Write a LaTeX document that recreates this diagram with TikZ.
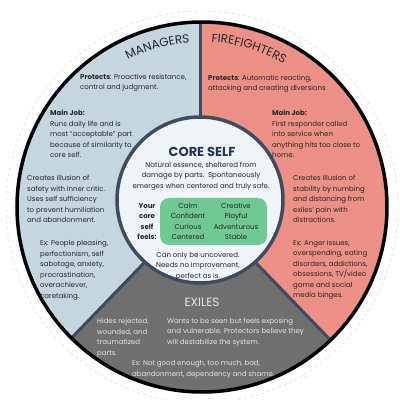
\documentclass[tikz,border=0pt]{standalone}
\usepackage{fontspec}
\setmainfont{Poppins}
\usetikzlibrary{positioning,decorations.text}
\definecolor{mgrblue}{RGB}{198,214,223}
\definecolor{firered}{RGB}{237,144,133}
\definecolor{exilegray}{RGB}{112,112,112}
\definecolor{corefill}{RGB}{240,245,250}
\definecolor{slate}{RGB}{62,76,98}
\definecolor{feelgreen}{RGB}{112,200,146}
\definecolor{ink}{RGB}{38,38,44}
\definecolor{corenavy}{RGB}{36,52,88}
\definecolor{pale}{RGB}{228,228,228}

\begin{document}
\begin{tikzpicture}[x=1pt,y=1pt,
    body/.style={inner sep=0pt,align=left,anchor=west,text=ink,font=\fontsize{7}{10.5}\selectfont},
    centred/.style={body,align=center,anchor=center},
    pale text/.style={body,text=pale},
    divider/.style={slate,line width=3pt},
    feelbox/.style={fill=feelgreen,rounded corners=9pt,minimum width=107pt,minimum height=47pt,inner sep=0pt},
    arcname/.style={decorate,decoration={text along path,text align=center,text color=ink,
        text={|\fontsize{12}{12}\selectfont|#1}}}]
  \useasboundingbox (0,0) rectangle (400,400);
  \fill[white] (0,0) rectangle (400,400);
  \coordinate (O) at (202,193);
  \coordinate (C) at (200,200);
  \coordinate (D) at (200,195);
  \path (D) ++(-46:300) coordinate (ER);
  \path (D) ++(-134:300) coordinate (EL);

  % the three parts
  \draw[gray!35,dashed,line width=0.4pt] (O) circle[radius=196];
  \begin{scope}
    \clip (O) circle[radius=185];
    \fill[mgrblue] (O) circle[radius=185];
    \fill[firered] (D) -- (200,400) -- (420,400) -- (420,-40) -- (ER) -- cycle;
    \fill[exilegray] (D) -- (ER) -- (EL) -- cycle;
    \draw[divider] (C) -- (200,400);
    \draw[divider] (D) -- (ER);
    \draw[divider] (D) -- (EL);
  \end{scope}
  \draw[line width=3.5pt] (O) circle[radius=185];
  \draw[slate,line width=3.5pt,fill=corefill] (C) circle[radius=83];

  % managers
  \path[arcname=MANAGERS] (O) ++(124:165) arc[start angle=124,end angle=87,radius=165];
  \node[body] (mprot) at (80,317) {\textbf{Protects}: Proactive resistance,\\control and judgment.};
  \node[body] (mjob) at (50,266) {\textbf{Main Job:}\\Runs daily life and is\\most “acceptable” part\\because of similarity to\\core self.};
  \node[body] (mill) at (27,201) {Creates illusion of\\safety with inner critic.\\Uses self sufficiency\\to prevent humiliation\\and abandonment.};
  \node[body] (mex) at (40,129.5) {Ex: People pleasing,\\perfectionism, self\\sabotage, anxiety,\\procrastination,\\overachiever,\\caretaking.};

  % firefighters
  \path[arcname=FIREFIGHTERS] (O) ++(92:165) arc[start angle=92,end angle=55,radius=165];
  \node[body] (fprot) at (208,316) {\textbf{Protects}: Automatic reacting,\\attacking and creating diversions};
  \node[body] (fjob) at (272,266) {\textbf{Main Job:}\\First responder called\\into service when\\anything hits too close to\\home.};
  \node[body] (fstab) at (293,201) {Creates illusion of\\stability by numbing\\and distancing from\\exiles’ pain with\\distractions.};
  \node[body] (fex) at (293,130) {Ex: Anger issues,\\overspending, eating\\disorders, addictions,\\obsessions, TV/video\\game and social\\media binges.};

  % core self
  \node[text=corenavy,font=\fontsize{13}{13}\selectfont\bfseries,inner sep=0pt] (core) at (202,248) {CORE SELF};
  \node[centred] (essence) at (201,224) {Natural essence, sheltered from\\damage by parts.\ \ Spontaneously\\emerges when centered and truly safe.};
  \node[feelbox] (feel) at (213.5,178.5) {};
  \node[centred] (feelL) at ([xshift=-25.5pt]feel.center) {Calm\\Confident\\Curious\\Centered};
  \node[centred] (feelR) at ([xshift=22.5pt]feel.center) {Creative\\Playful\\Adventurous\\Stable};
  \node[centred,font=\fontsize{7}{10.5}\selectfont\bfseries,left=3pt of feel] (your) {Your\\core\\self\\feels:};
  \node[centred] (uncov) at (198,134) {Can only be uncovered.\\Needs no improvement,\\perfect as is.};

  % exiles
  \node[text=pale,font=\fontsize{12}{12}\selectfont,inner sep=0pt] (exiles) at (202,98) {EXILES};
  \node[pale text] (hides) at (97,62.5) {Hides rejected,\\wounded, and\\traumatized\\parts.};
  \node[pale text] (wants) at (167,68) {Wants to be seen but feels exposing\\and vulnerable. Protectors believe they\\will destabilize the system.};
  \node[pale text] (exex) at (132,30.5) {Ex: Not good enough, too much, bad,\\abandonment, dependency and shame.};
  \node[pale text,font=\fontsize{4}{4}\selectfont] (copy) at (300,23) {©20};
\end{tikzpicture}
\end{document}
